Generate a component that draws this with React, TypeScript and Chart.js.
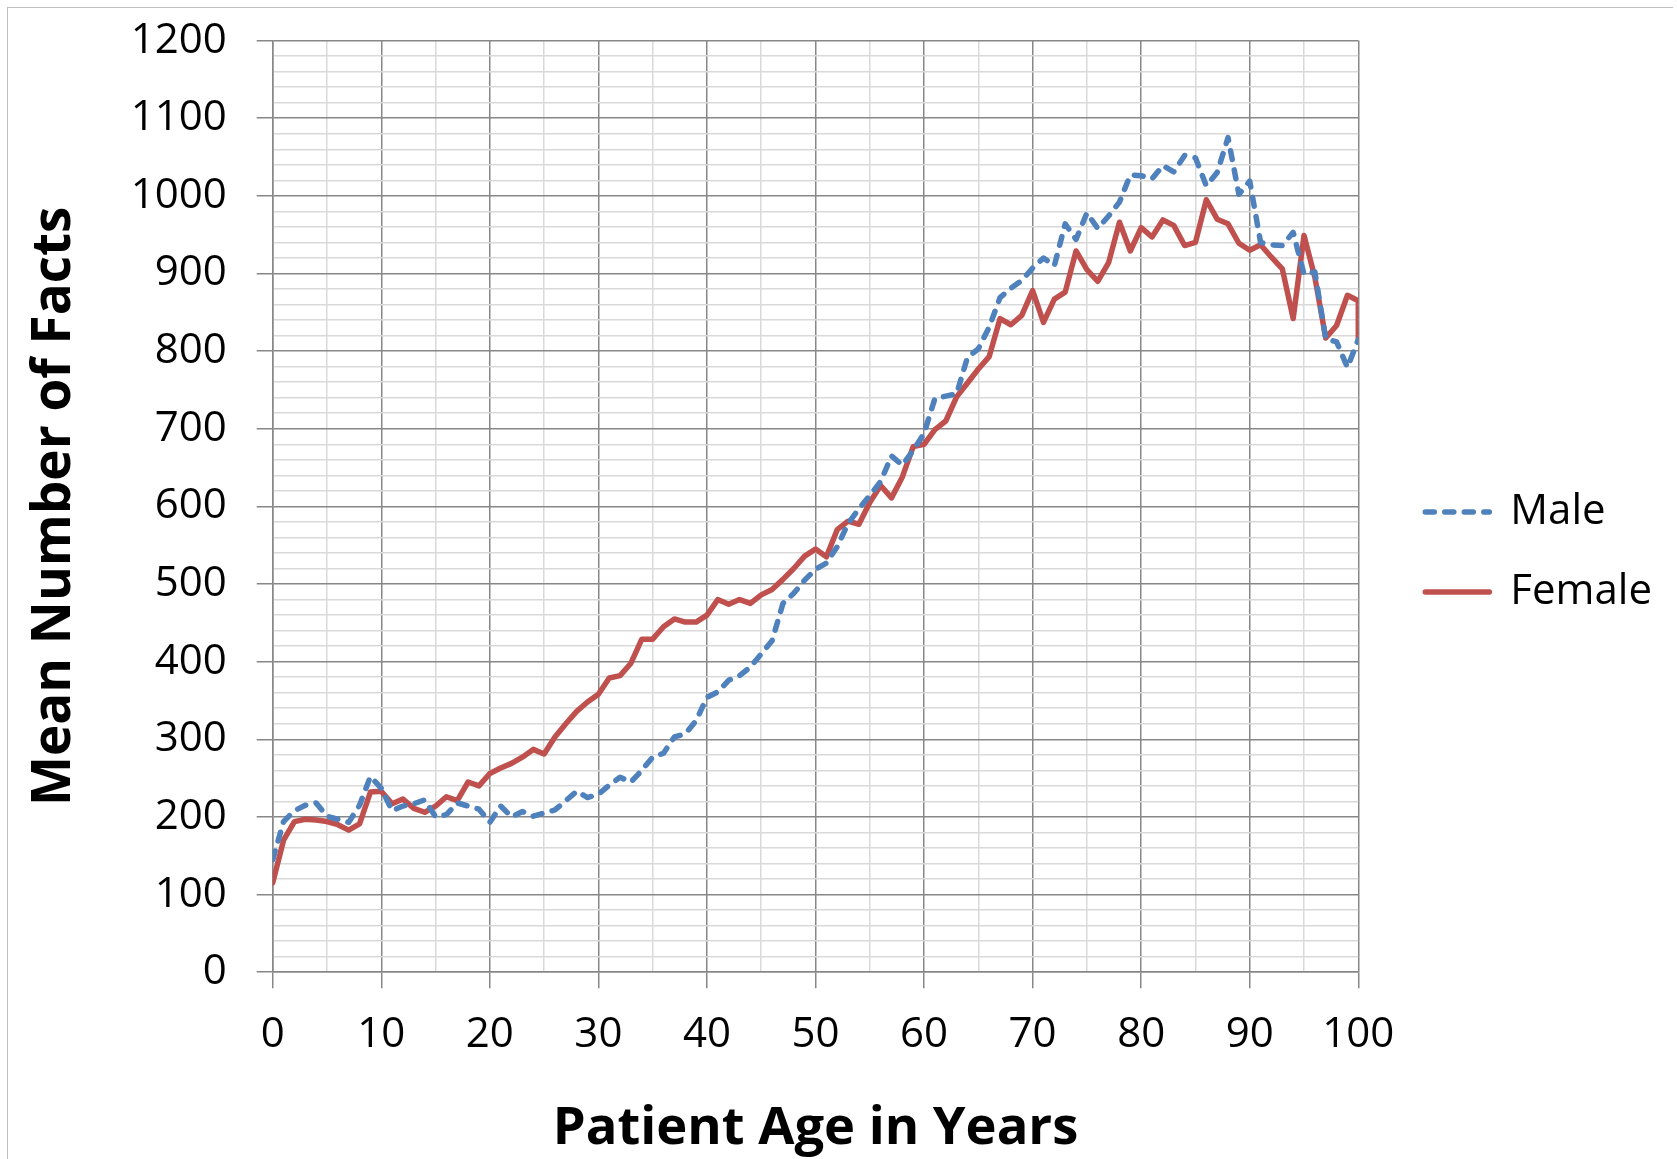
import React, { useEffect, useRef } from "react";
import { Chart, registerables } from "chart.js";

Chart.register(...registerables);

// ---- data ----
const AGES = [
  0, 1, 2, 3, 4, 5, 6, 7, 8, 9, 10, 11, 12, 13, 14, 15, 16, 17, 18, 19, 20,
  21, 22, 23, 24, 25, 26, 27, 28, 29, 30, 31, 32, 33, 34, 35, 36, 37, 38, 39, 40,
  41, 42, 43, 44, 45, 46, 47, 48, 49, 50, 51, 52, 53, 54, 55, 56, 57, 58, 59, 60,
  61, 62, 63, 64, 65, 66, 67, 68, 69, 70, 71, 72, 73, 74, 75, 76, 77, 78, 79, 80,
  81, 82, 83, 84, 85, 86, 87, 88, 89, 90, 91, 92, 93, 94, 95, 96, 97, 98, 99, 100,
];

const MALE = [
  145, 194, 208, 215, 218, 201, 197, 193, 215, 252, 237,
  208, 214, 217, 222, 200, 203, 218, 214, 210, 193,
  214, 200, 207, 201, 205, 209, 221, 233, 225, 229,
  241, 251, 245, 260, 277, 282, 303, 307, 324, 354,
  361, 376, 382, 393, 410, 427, 475, 488, 505, 519,
  527, 548, 578, 597, 614, 632, 665, 653, 672, 694,
  739, 742, 745, 792, 803, 831, 869, 881, 891, 907,
  920, 910, 964, 944, 978, 958, 974, 992, 1027, 1026,
  1022, 1039, 1031, 1052, 1049, 1013, 1030, 1075, 1002, 1019,
  940, 937, 936, 953, 899, 902, 816, 812, 779, 815,
];

const FEMALE = [
  115, 170, 194, 197, 196, 194, 190, 183, 191, 232, 233,
  217, 223, 211, 206, 214, 226, 221, 245, 240, 256,
  263, 269, 277, 287, 281, 303, 320, 336, 348, 358,
  379, 382, 398, 429, 429, 445, 455, 451, 451, 460,
  480, 474, 480, 475, 486, 493, 506, 520, 536, 545,
  535, 570, 581, 577, 605, 627, 611, 638, 677, 680,
  699, 710, 741, 759, 777, 793, 842, 834, 846, 878,
  837, 867, 876, 929, 905, 890, 914, 966, 929, 959,
  947, 969, 962, 936, 940, 995, 970, 964, 939, 930,
  937, 921, 906, 842, 949, 895, 817, 833, 872, 865,
];

// the female line ends with a final drop drawn at age 100
const FEMALE_TAIL_AGE = 100;
const FEMALE_TAIL_VALUE = 817;

const SERIES_NAMES = ["Male", "Female"];
const X_TITLE = "Patient Age in Years";
const Y_TITLE = "Mean Number of Facts";

const X_MIN = 0;
const X_MAX = 100;
const X_MINOR_STEP = 5;
const X_MAJOR_STEP = 10;
const Y_MIN = 0;
const Y_MAX = 1200;
const Y_MINOR_STEP = 20;
const Y_MAJOR_STEP = 100;

// ---- styles ----
const W = 1677;
const H = 1159;
const FONT = "'Open Sans', 'Noto Sans', 'DejaVu Sans', sans-serif";
const BLUE = "#4F81BD";
const RED = "#C0504D";
const MAJOR = "#878787";
const MINOR = "#D9D9D9";
const NONE = "rgba(0,0,0,0)";
const LINE_W = 5.5;
const MALE_DASH = [9, 10.5];

const PLOT_LEFT = 272.7;
const PLOT_TOP = 40.6;
const PLOT_RIGHT = 1358.3;
const PLOT_BOTTOM = 972.2;
const GAP_W = 29;
const LEGEND_FONT = 42;
const LEGEND_PAD = 38;
const LEGEND_LINE = 64;

export default function App() {
  const ref = useRef<HTMLCanvasElement | null>(null);

  useEffect(() => {
    if (!ref.current) return;
    const malePts = AGES.map((a, i) => ({ x: a, y: MALE[i] }));
    const femalePts = AGES.map((a, i) => ({ x: a, y: FEMALE[i] }));
    femalePts.push({ x: FEMALE_TAIL_AGE, y: FEMALE_TAIL_VALUE });

    // legend width as Chart.js will compute it, so the plot's right edge lands where wanted
    const mctx = document.createElement("canvas").getContext("2d") as CanvasRenderingContext2D;
    mctx.font = `${LEGEND_FONT}px ${FONT}`;
    const textW = Math.max(...SERIES_NAMES.map((n) => mctx.measureText(n).width));
    const legendW = LEGEND_PAD + LEGEND_LINE + LEGEND_FONT / 2 + textW + 10;
    const padRight = Math.max(0, W - PLOT_RIGHT - GAP_W - legendW);

    const chart = new Chart(ref.current, {
      type: "line",
      data: {
        datasets: [
          {
            label: SERIES_NAMES[0],
            data: malePts,
            borderColor: BLUE,
            backgroundColor: BLUE,
            borderWidth: LINE_W,
            borderDash: MALE_DASH,
            borderCapStyle: "round",
            borderJoinStyle: "round",
            pointRadius: 0,
            tension: 0,
            xAxisID: "x",
            yAxisID: "y",
          },
          {
            label: SERIES_NAMES[1],
            data: femalePts,
            borderColor: RED,
            backgroundColor: RED,
            borderWidth: LINE_W,
            borderCapStyle: "round",
            borderJoinStyle: "round",
            pointRadius: 0,
            tension: 0,
            xAxisID: "x",
            yAxisID: "y",
          },
        ],
      },
      options: {
        responsive: false,
        animation: false,
        devicePixelRatio: 1,
        events: [],
        layout: {
          padding: { left: 0, top: PLOT_TOP, bottom: 0, right: padRight },
        },
        plugins: {
          tooltip: { enabled: false },
          legend: {
            display: true,
            position: "right",
            align: "center",
            fullSize: false,
            title: { display: true, text: "", padding: 0, font: { size: 76 } },
            labels: {
              usePointStyle: true,
              pointStyleWidth: LEGEND_LINE,
              padding: LEGEND_PAD,
              color: "#000",
              font: { family: FONT, size: LEGEND_FONT },
              generateLabels: (ch: any) =>
                ch.data.datasets.map((ds: any, i: number) => ({
                  text: ds.label,
                  datasetIndex: i,
                  hidden: false,
                  pointStyle: "line",
                  strokeStyle: ds.borderColor,
                  fillStyle: ds.borderColor,
                  fontColor: "#000",
                  lineWidth: ds.borderWidth,
                  lineDash: ds.borderDash || [],
                  lineCap: "round",
                  lineJoin: "round",
                })),
            },
          },
        },
        scales: {
          x: {
            type: "linear",
            min: X_MIN,
            max: X_MAX,
            afterFit: (s: any) => {
              s.height = H - PLOT_BOTTOM;
            },
            border: { display: true, color: MAJOR, width: 1.5 },
            grid: {
              lineWidth: 1.5,
              tickLength: 16,
              color: (c: any) =>
                c.tick && c.tick.value % X_MAJOR_STEP === 0 ? MAJOR : MINOR,
              tickColor: (c: any) =>
                c.tick && c.tick.value % X_MAJOR_STEP === 0 ? MAJOR : NONE,
            },
            ticks: {
              stepSize: X_MINOR_STEP,
              autoSkip: false,
              maxRotation: 0,
              padding: 22,
              color: "#000",
              font: { family: FONT, size: 42 },
              callback: (v: any) => (v % X_MAJOR_STEP === 0 ? String(v) : ""),
            },
            title: {
              display: true,
              text: X_TITLE,
              color: "#000",
              font: { family: FONT, size: 52.5, weight: "bold" },
              padding: { top: 0, bottom: -1.5 },
            },
          },
          y: {
            type: "linear",
            position: "left",
            min: Y_MIN,
            max: Y_MAX,
            afterFit: (s: any) => {
              s.width = PLOT_LEFT;
              s.paddingTop = 0;
              s.paddingBottom = 0;
            },
            border: { display: true, color: MAJOR, width: 1.5 },
            grid: {
              lineWidth: 1.5,
              tickLength: 16,
              color: (c: any) =>
                c.tick && c.tick.value % Y_MAJOR_STEP === 0 ? MAJOR : MINOR,
              tickColor: (c: any) =>
                c.tick && c.tick.value % Y_MAJOR_STEP === 0 ? MAJOR : NONE,
            },
            ticks: {
              stepSize: Y_MINOR_STEP,
              autoSkip: false,
              padding: 30,
              color: "#000",
              font: { family: FONT, size: 42 },
              callback: (v: any) => (v % Y_MAJOR_STEP === 0 ? String(v) : ""),
            },
            title: {
              display: true,
              text: Y_TITLE,
              color: "#000",
              font: { family: FONT, size: 53, weight: "bold" },
              padding: { top: 23, bottom: 0 },
            },
          },
          gap: {
            type: "linear",
            position: "right",
            display: true,
            afterFit: (s: any) => {
              s.width = GAP_W;
              s.paddingTop = 0;
              s.paddingBottom = 0;
            },
            border: { display: false },
            grid: { display: false, drawTicks: false },
            ticks: { display: false },
          },
        },
      },
    } as any);
    return () => chart.destroy();
  }, []);

  return (
    <div style={{ position: "absolute", left: 0, top: 0, width: W, height: H, background: "#fff" }}>
      <div
        style={{
          position: "absolute",
          left: 7,
          top: 7,
          width: 1666,
          height: H - 7,
          borderTop: "1.5px solid #BFBFBF",
          borderLeft: "1.5px solid #BFBFBF",
          boxSizing: "border-box",
        }}
      />
      <canvas
        ref={ref}
        width={W}
        height={H}
        style={{ position: "absolute", left: 0, top: 0, width: W, height: H, display: "block" }}
      />
    </div>
  );
}
